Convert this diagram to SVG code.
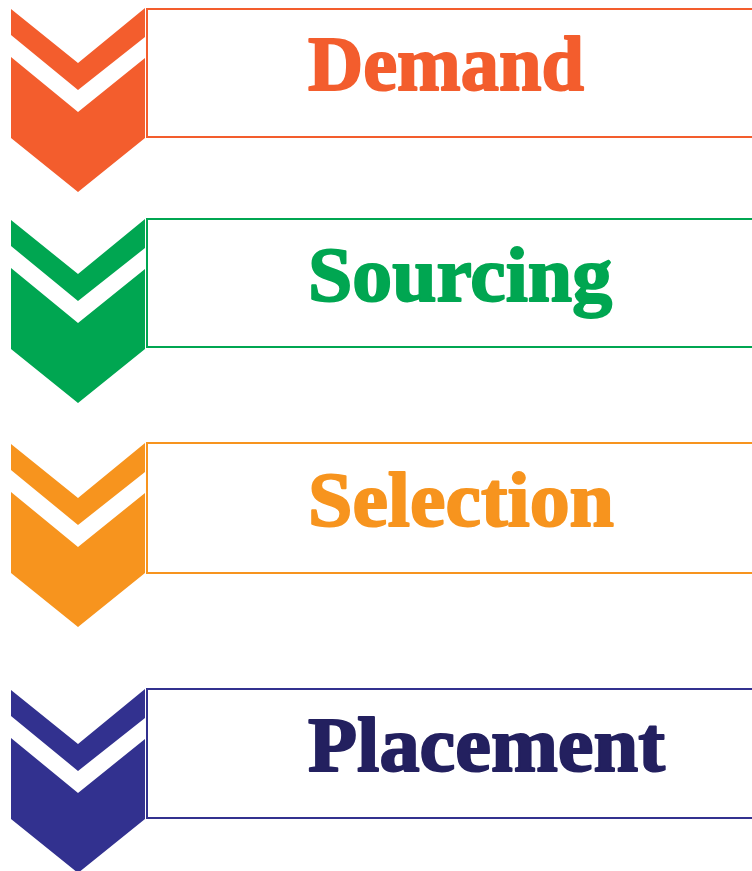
<svg xmlns="http://www.w3.org/2000/svg" xmlns:xlink="http://www.w3.org/1999/xlink" width="752" height="871" viewBox="0 0 752 871">
  <style>
    .box { fill: #ffffff; stroke-width: 2; }
    .label { font-family: "Liberation Serif", "Times New Roman", serif; font-weight: bold; font-size: 78px; stroke-width: 2; stroke-linejoin: round; }
  </style>
  <defs>
    <g id="chevron">
      <path d="M11,0 L78,54 L145,-1 L145,28 L78,81 L11,26 Z"/>
      <path d="M11,48 L78,103 L145,49 L145,129 L78,183 L11,129 Z"/>
    </g>
  </defs>
  <rect width="752" height="871" fill="#ffffff"/>

  <g id="demand">
    <use xlink:href="#chevron" href="#chevron" transform="translate(0,9)" fill="#F35D2D"/>
    <rect class="box" x="147" y="9" width="620" height="128" stroke="#F35D2D"/>
    <text class="label" x="308" y="90" textLength="276" lengthAdjust="spacingAndGlyphs" fill="#F35D2D" stroke="#F35D2D">Demand</text>
  </g>

  <g id="sourcing">
    <use xlink:href="#chevron" href="#chevron" transform="translate(0,220)" fill="#00A651"/>
    <rect class="box" x="147" y="219" width="620" height="128" stroke="#00A651"/>
    <text class="label" x="308" y="301" textLength="304" lengthAdjust="spacingAndGlyphs" fill="#00A651" stroke="#00A651">Sourcing</text>
  </g>

  <g id="selection">
    <use xlink:href="#chevron" href="#chevron" transform="translate(0,444)" fill="#F7941E"/>
    <rect class="box" x="147" y="443" width="620" height="130" stroke="#F7941E"/>
    <text class="label" x="308" y="526" textLength="306" lengthAdjust="spacingAndGlyphs" fill="#F7941E" stroke="#F7941E">Selection</text>
  </g>

  <g id="placement">
    <use xlink:href="#chevron" href="#chevron" transform="translate(0,690)" fill="#32318F"/>
    <rect class="box" x="147" y="689" width="620" height="129" stroke="#32318F"/>
    <text class="label" x="308" y="771" textLength="357" lengthAdjust="spacingAndGlyphs" fill="#23205F" stroke="#23205F">Placement</text>
  </g>

  <g id="connectors"/>
</svg>
